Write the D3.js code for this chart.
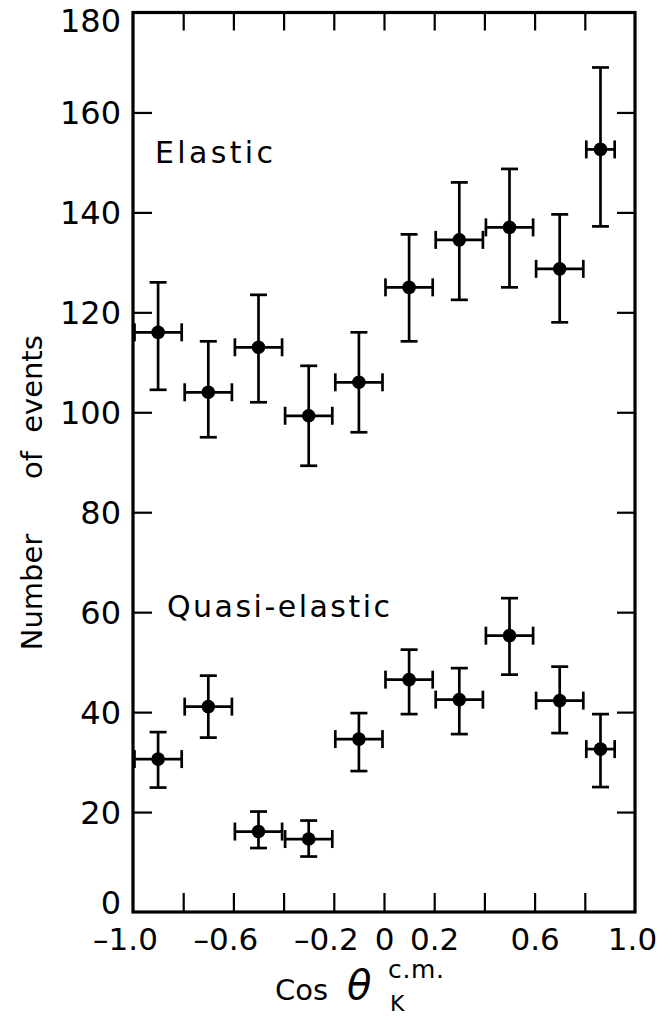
<!DOCTYPE html>
<html>
<head>
<meta charset="utf-8">
<script src="https://cdn.jsdelivr.net/npm/d3@7"></script>
<style>
  html, body { margin: 0; padding: 0; background: #fff; }
  svg { display: block; }
  text { font-family: "DejaVu Sans", sans-serif; fill: #000; }
</style>
</head>
<body>
<svg id="chart" width="659" height="1019"></svg>
<script>
// Angular bins in cos(theta_K) (c.m. frame)
const binLo = [-1.0, -0.8, -0.6, -0.4, -0.2, 0.0, 0.2, 0.4, 0.6, 0.8];
const binHi = [-0.8, -0.6, -0.4, -0.2, 0.0, 0.2, 0.4, 0.6, 0.8, 0.925];

// Elastic events per bin, with error-bar limits
const elastic   = [116, 104, 113, 99.3, 106, 125, 134.5, 137, 128.7, 152.6];
const elasticHi = [126, 114.2, 123.5, 109.3, 116, 135.6, 146, 148.7, 139.6, 169];
const elasticLo = [104.5, 95, 102, 89.3, 96, 114.2, 122.5, 125, 118, 137.2];

// Quasi-elastic events per bin, with error-bar limits
const quasi   = [30.6, 41.1, 16.1, 14.6, 34.6, 46.5, 42.5, 55.3, 42.3, 32.6];
const quasiHi = [36, 47.3, 20.1, 18.3, 39.8, 52.5, 48.8, 62.8, 49.1, 39.6];
const quasiLo = [24.9, 34.9, 12.8, 11.1, 28.2, 39.6, 35.6, 47.5, 35.8, 25];

// Axis ticks and labels
const xTicks = [-0.8, -0.6, -0.4, -0.2, 0, 0.2, 0.4, 0.6, 0.8];
const xLabelVals = [-1.0, -0.6, -0.2, 0, 0.2, 0.6, 1.0];
const xLabelText = ["\u20131.0", "\u20130.6", "\u20130.2", "0", "0.2", "0.6", "1.0"];
const yTicks = [20, 40, 60, 80, 100, 120, 140, 160];
const yLabelVals = [0, 20, 40, 60, 80, 100, 120, 140, 160, 180];
const yTitleWords = ["Number", "of", "events"];

const svg = d3.select("#chart");
const L = 133, R = 635, T = 12.5, B = 912;

const x = d3.scaleLinear().domain([-1, 1]).range([L, R]);
const y = d3.scaleLinear().domain([0, 180]).range([B, T]);

// inward tick marks on all four sides
function ticks(g) {
  g.select(".domain").remove();
  g.selectAll(".tick line").attr("stroke", "#000").attr("stroke-width", 2.2);
}
svg.append("g").attr("transform", `translate(0,${B})`)
  .call(d3.axisBottom(x).tickValues(xTicks).tickSizeInner(-19).tickSizeOuter(0).tickFormat(""))
  .call(ticks);
svg.append("g").attr("transform", `translate(0,${T})`)
  .call(d3.axisTop(x).tickValues(xTicks).tickSizeInner(-18).tickSizeOuter(0).tickFormat(""))
  .call(ticks);
svg.append("g").attr("transform", `translate(${L},0)`)
  .call(d3.axisLeft(y).tickValues(yTicks).tickSizeInner(-19).tickSizeOuter(0).tickFormat(""))
  .call(ticks);
svg.append("g").attr("transform", `translate(${R},0)`)
  .call(d3.axisRight(y).tickValues(yTicks).tickSizeInner(-18).tickSizeOuter(0).tickFormat(""))
  .call(ticks);

// frame
svg.append("rect")
  .attr("x", L).attr("y", T).attr("width", R - L).attr("height", B - T)
  .attr("fill", "none").attr("stroke", "#000").attr("stroke-width", 3.2);

// tick labels
const xl = svg.append("g").attr("transform", `translate(0,${B})`)
  .call(d3.axisBottom(x).tickValues(xLabelVals).tickSize(0).tickPadding(0)
    .tickFormat((d, i) => xLabelText[i]));
xl.select(".domain").remove();
xl.selectAll("text")
  .attr("font-size", 31).attr("font-family", "DejaVu Sans, sans-serif")
  .attr("y", 38).attr("dy", 0)
  .attr("dx", d => d < 0 ? -8 : d === 1 ? -3 : 0);

// the corner labels sit slightly inside the frame's ends
const yl = svg.append("g").attr("transform", `translate(${L},0)`)
  .call(d3.axisLeft(y).tickValues(yLabelVals).tickSize(0).tickPadding(12));
yl.select(".domain").remove();
yl.selectAll("text")
  .attr("font-size", 32).attr("font-family", "DejaVu Sans, sans-serif")
  .attr("dy", d => d === 180 ? 19 : d === 0 ? 1 : 11.5);

// data with error bars
function drawSeries(vals, hi, lo) {
  const g = svg.append("g").attr("stroke", "#000").attr("stroke-width", 2.7).attr("fill", "none");
  const cx = i => x((binLo[i] + binHi[i]) / 2);
  const idx = d3.range(vals.length);
  // vertical bars and caps
  g.selectAll(null).data(idx).join("line")
    .attr("x1", cx).attr("x2", cx).attr("y1", i => y(hi[i])).attr("y2", i => y(lo[i]));
  g.selectAll(null).data(idx).join("line")
    .attr("x1", i => cx(i) - 8.5).attr("x2", i => cx(i) + 8.5)
    .attr("y1", i => y(hi[i])).attr("y2", i => y(hi[i]));
  g.selectAll(null).data(idx).join("line")
    .attr("x1", i => cx(i) - 8.5).attr("x2", i => cx(i) + 8.5)
    .attr("y1", i => y(lo[i])).attr("y2", i => y(lo[i]));
  // horizontal bars and end caps
  g.selectAll(null).data(idx).join("line")
    .attr("x1", i => x(binLo[i]) + 1.5).attr("x2", i => x(binHi[i]) - 1.5)
    .attr("y1", i => y(vals[i])).attr("y2", i => y(vals[i]));
  g.selectAll(null).data(idx).join("line")
    .attr("x1", i => x(binLo[i]) + 1.5).attr("x2", i => x(binLo[i]) + 1.5)
    .attr("y1", i => y(vals[i]) - 9).attr("y2", i => y(vals[i]) + 9);
  g.selectAll(null).data(idx).join("line")
    .attr("x1", i => x(binHi[i]) - 1.5).attr("x2", i => x(binHi[i]) - 1.5)
    .attr("y1", i => y(vals[i]) - 9).attr("y2", i => y(vals[i]) + 9);
  svg.append("g").selectAll("circle").data(idx).join("circle")
    .attr("cx", cx).attr("cy", i => y(vals[i])).attr("r", 6.8).attr("fill", "#000");
}
drawSeries(elastic, elasticHi, elasticLo);
drawSeries(quasi, quasiHi, quasiLo);

// series labels
svg.append("text").attr("x", 155).attr("y", 163)
  .attr("font-size", 30).attr("textLength", 118).attr("lengthAdjust", "spacing")
  .text("Elastic");
svg.append("text").attr("x", 167).attr("y", 617)
  .attr("font-size", 30).attr("textLength", 223).attr("lengthAdjust", "spacing")
  .text("Quasi-elastic");

// y-axis title, set word by word along the rotated baseline (word centres)
const yTitleMid = [592, 465, 384];
const yt = svg.append("g").attr("transform", "translate(42,0) rotate(-90)");
yt.selectAll("text").data(yTitleWords).join("text")
  .attr("x", (d, i) => -yTitleMid[i]).attr("y", 0)
  .attr("text-anchor", "middle")
  .attr("font-family", "Liberation Sans, Arial, sans-serif").attr("font-size", 29)
  .text(d => d);

// x-axis title: cos(theta_K) with c.m. superscript
const xt = svg.append("g");
xt.append("text").attr("x", 275).attr("y", 1000).attr("font-size", 29).text("Cos");
xt.append("text").attr("x", 347).attr("y", 999).attr("font-size", 40)
  .attr("font-style", "italic").text("\u03B8");
xt.append("text").attr("x", 388).attr("y", 978).attr("font-size", 25)
  .attr("textLength", 56).attr("lengthAdjust", "spacing").text("c.m.");
xt.append("text").attr("x", 390).attr("y", 1011).attr("font-size", 22).text("K");
</script>
</body>
</html>
